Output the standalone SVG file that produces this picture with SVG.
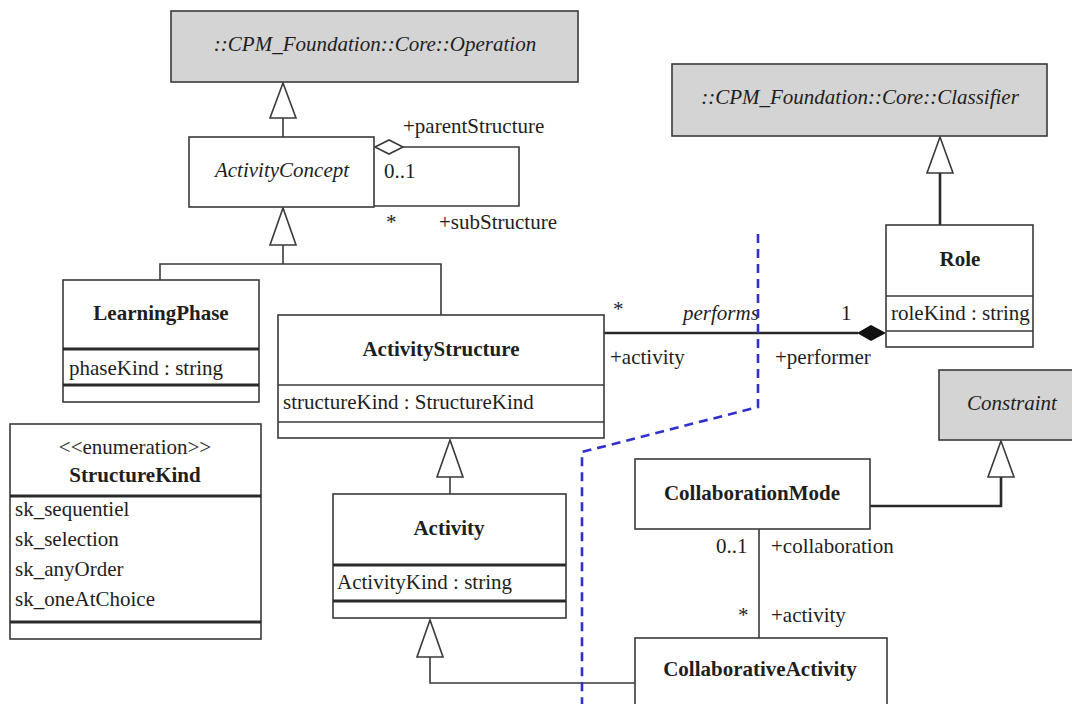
<svg xmlns="http://www.w3.org/2000/svg" width="1072" height="704" viewBox="0 0 1072 704">
  <style>
    .box { fill: #ffffff; stroke: #3a3a3a; stroke-width: 1.6; }
    .gray { fill: #d4d4d4; }
    .sep { stroke: #3a3a3a; stroke-width: 1.6; fill: none; }
    .sep2 { stroke: #2a2a2a; stroke-width: 3; fill: none; }
    .t { font-family: "Liberation Serif", "Times New Roman", serif; font-size: 21px; fill: #1e1e1e; }
    .b { font-weight: bold; }
    .i { font-style: italic; }
    .mid { text-anchor: middle; }
    .line { stroke: #3a3a3a; stroke-width: 1.6; fill: none; }
    .thick { stroke: #2a2a2a; stroke-width: 2.6; fill: none; }
    .tri { fill: #ffffff; stroke: #3a3a3a; stroke-width: 1.6; }
    .border { stroke: #3030cc; stroke-width: 2.6; fill: none; stroke-dasharray: 9 6; }
  </style>

  <rect width="1072" height="704" fill="#ffffff"/>

  <!-- connectors -->
  <g id="connectors">
    <!-- ActivityConcept -> Operation -->
    <line class="line" x1="283" y1="118" x2="283" y2="137"/>
    <polygon class="tri" points="283,83 270,118 296,118"/>
    <!-- self association on ActivityConcept -->
    <polyline class="line" points="403,147 519,147 519,206 374,206"/>
    <polygon class="tri" points="375,147 389,140 403,147 389,154"/>
    <!-- LearningPhase / ActivityStructure -> ActivityConcept -->
    <polyline class="line" points="160,280 160,264 441,264 441,315"/>
    <line class="line" x1="283" y1="245" x2="283" y2="264"/>
    <polygon class="tri" points="283,208 270,245 296,245"/>
    <!-- Role -> Classifier -->
    <line class="thick" x1="940" y1="173" x2="940" y2="225"/>
    <polygon class="tri" points="940,137 927,173 953,173"/>
    <!-- performs: ActivityStructure - Role -->
    <line class="thick" x1="604" y1="333" x2="858" y2="333"/>
    <polygon fill="#111111" points="857,333 871,325 886,333 871,341"/>
    <!-- Activity -> ActivityStructure -->
    <line class="line" x1="450" y1="477" x2="450" y2="494"/>
    <polygon class="tri" points="450,440 437,477 463,477"/>
    <!-- CollaborativeActivity -> Activity -->
    <polyline class="line" points="635,683 430,683 430,657"/>
    <polygon class="tri" points="430,620 417,657 443,657"/>
    <!-- CollaborationMode -> Constraint -->
    <polyline class="thick" points="870,506 1001,506 1001,477"/>
    <polygon class="tri" points="1001,441 988,477 1014,477"/>
    <!-- CollaborationMode - CollaborativeActivity -->
    <line class="line" x1="759" y1="529" x2="759" y2="638"/>

    <!-- association end labels -->
    <text class="t" x="403" y="133">+parentStructure</text>
    <text class="t" x="384" y="178">0..1</text>
    <text class="t" x="386" y="229">*</text>
    <text class="t" x="439" y="229">+subStructure</text>
    <text class="t" x="613" y="316">*</text>
    <text class="t i" x="683" y="320">performs</text>
    <text class="t" x="841" y="320">1</text>
    <text class="t" x="610" y="364">+activity</text>
    <text class="t" x="775" y="364">+performer</text>
    <text class="t" x="716" y="553">0..1</text>
    <text class="t" x="771" y="553">+collaboration</text>
    <text class="t" x="738" y="622">*</text>
    <text class="t" x="771" y="622">+activity</text>
  </g>

  <!-- boundary line -->
  <polyline id="boundary" class="border" points="758,234 758,407 582,452 582,704"/>

  <g id="Operation">
    <rect class="box gray" x="171" y="11" width="407" height="71"/>
    <text class="t i mid" x="375" y="51">::CPM_Foundation::Core::Operation</text>
  </g>

  <g id="ActivityConcept">
    <rect class="box" x="189" y="137" width="185" height="70"/>
    <text class="t i mid" x="282" y="177">ActivityConcept</text>
  </g>

  <g id="Classifier">
    <rect class="box gray" x="672" y="64" width="375" height="72"/>
    <text class="t i mid" x="860" y="104">::CPM_Foundation::Core::Classifier</text>
  </g>

  <g id="Role">
    <rect class="box" x="886" y="225" width="147" height="122"/>
    <line class="sep" x1="886" y1="296" x2="1033" y2="296"/>
    <line class="sep" x1="886" y1="331" x2="1033" y2="331"/>
    <text class="t b mid" x="960" y="266">Role</text>
    <text class="t" x="891" y="320">roleKind : string</text>
  </g>

  <g id="LearningPhase">
    <rect class="box" x="63" y="280" width="196" height="122"/>
    <line class="sep2" x1="63" y1="349" x2="259" y2="349"/>
    <line class="sep2" x1="63" y1="385" x2="259" y2="385"/>
    <text class="t b mid" x="161" y="320">LearningPhase</text>
    <text class="t" x="69" y="375">phaseKind : string</text>
  </g>

  <g id="ActivityStructure">
    <rect class="box" x="278" y="315" width="326" height="123"/>
    <line class="sep" x1="278" y1="385" x2="604" y2="385"/>
    <line class="sep" x1="278" y1="422" x2="604" y2="422"/>
    <text class="t b mid" x="441" y="356">ActivityStructure</text>
    <text class="t" x="283" y="409">structureKind : StructureKind</text>
  </g>

  <g id="StructureKind">
    <rect class="box" x="10" y="424" width="251" height="215"/>
    <line class="sep2" x1="10" y1="496" x2="261" y2="496"/>
    <line class="sep2" x1="10" y1="622" x2="261" y2="622"/>
    <text class="t mid" x="135" y="454">&lt;&lt;enumeration&gt;&gt;</text>
    <text class="t b mid" x="135" y="482">StructureKind</text>
    <text class="t" x="15" y="516">sk_sequentiel</text>
    <text class="t" x="15" y="546">sk_selection</text>
    <text class="t" x="15" y="576">sk_anyOrder</text>
    <text class="t" x="15" y="606">sk_oneAtChoice</text>
  </g>

  <g id="Activity">
    <rect class="box" x="333" y="494" width="233" height="124"/>
    <line class="sep2" x1="333" y1="565" x2="566" y2="565"/>
    <line class="sep2" x1="333" y1="601" x2="566" y2="601"/>
    <text class="t b mid" x="449" y="535">Activity</text>
    <text class="t" x="337" y="589">ActivityKind : string</text>
  </g>

  <g id="Constraint">
    <rect class="box gray" x="939" y="370" width="140" height="70"/>
    <text class="t i mid" x="1012" y="410">Constraint</text>
  </g>

  <g id="CollaborationMode">
    <rect class="box" x="635" y="459" width="235" height="70"/>
    <text class="t b mid" x="752" y="500">CollaborationMode</text>
  </g>

  <g id="CollaborativeActivity">
    <rect class="box" x="635" y="638" width="252" height="80"/>
    <text class="t b mid" x="760" y="676">CollaborativeActivity</text>
  </g>
</svg>
